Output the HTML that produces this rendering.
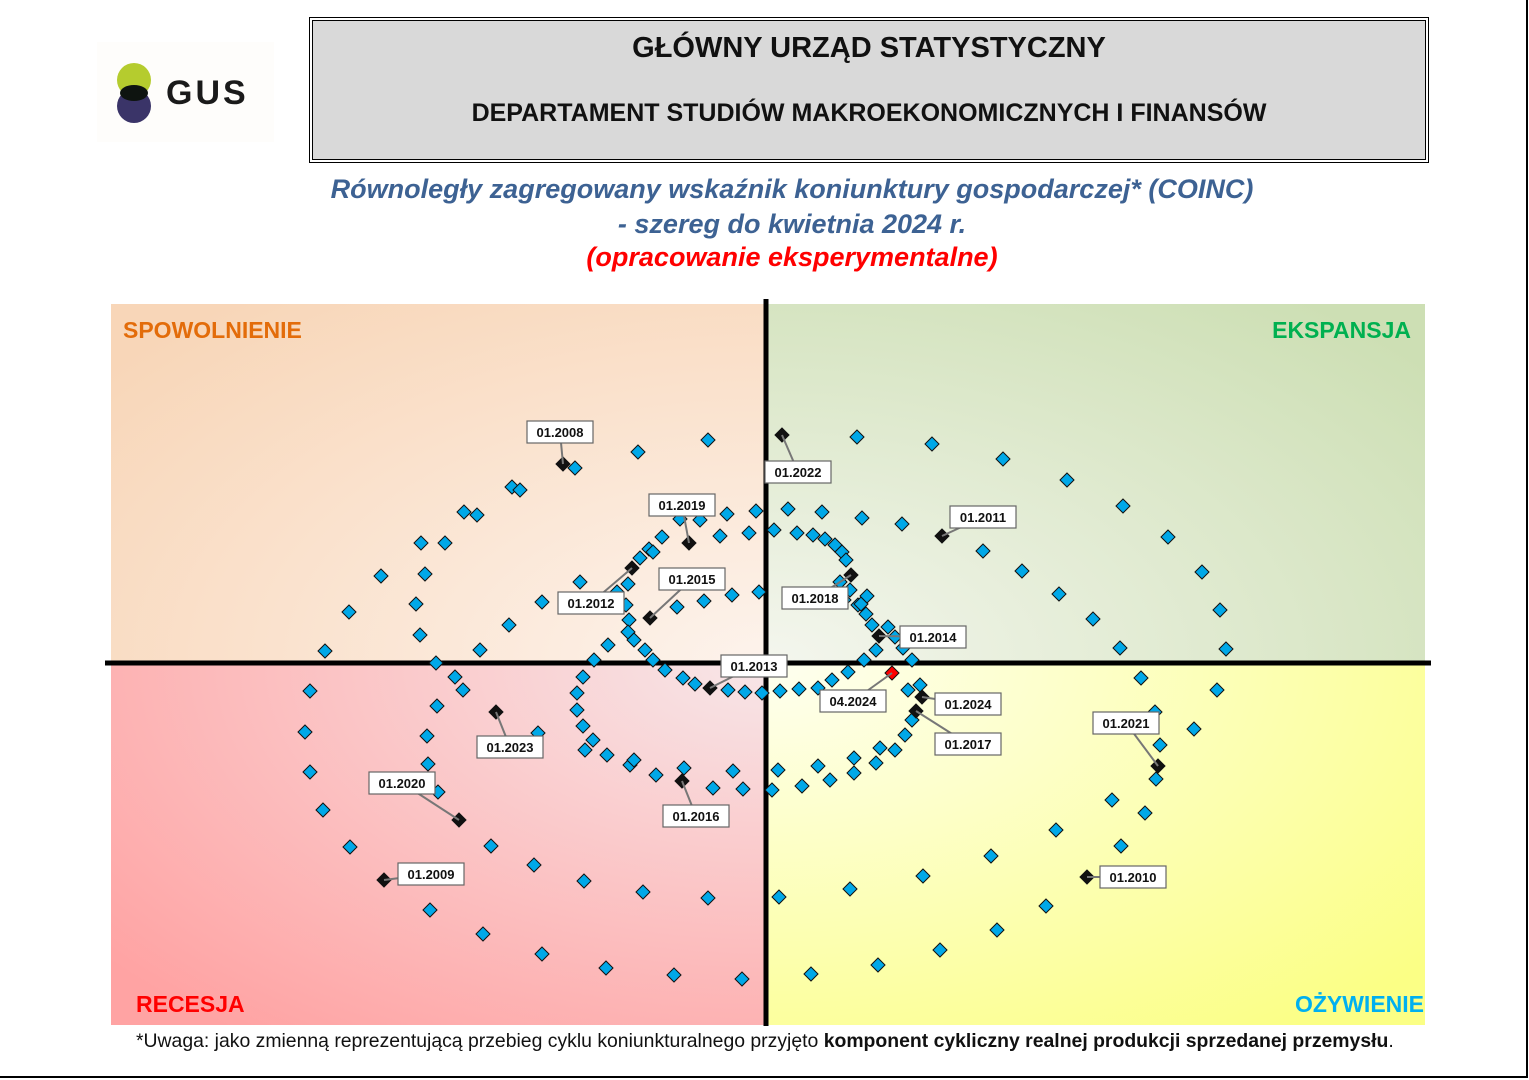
<!DOCTYPE html>
<html><head><meta charset="utf-8"><style>
body{margin:0;width:1529px;height:1080px;background:#fff;position:relative;overflow:hidden;font-family:"Liberation Sans",sans-serif}
.abs{position:absolute}
</style></head><body>
<div class="abs" style="left:1526px;top:0;width:2px;height:1078px;background:#000"></div>
<div class="abs" style="left:0;top:1076px;width:1528px;height:2px;background:#000"></div>
<!-- logo -->
<div class="abs" style="left:97px;top:42px;width:177px;height:100px;background:#fefdfb"></div>
<div class="abs" style="left:117px;top:63px;width:34px;height:34px;border-radius:50%;background:#b5cc2e"></div>
<div class="abs" style="left:117px;top:89px;width:34px;height:34px;border-radius:50%;background:#3a3468"></div>
<div class="abs" style="left:120px;top:85px;width:28px;height:16px;border-radius:50%;background:#0e1410"></div>
<div class="abs" style="left:166px;top:74px;font-size:34px;letter-spacing:3px;color:#1a1a1a;font-weight:bold">GUS</div>
<!-- header box -->
<div class="abs" style="left:309px;top:17px;width:1114px;height:140px;border:1px solid #000;padding:2px;"><div style="width:1112px;height:138px;border:1px solid #000;background:#d9d9d9"></div></div>
<div class="abs" style="left:310px;top:32px;width:1118px;text-align:center;font-weight:bold;font-size:29px;color:#111">GŁÓWNY URZĄD STATYSTYCZNY</div>
<div class="abs" style="left:310px;top:99px;width:1118px;text-align:center;font-weight:bold;font-size:25px;color:#111">DEPARTAMENT STUDIÓW MAKROEKONOMICZNYCH I FINANSÓW</div>
<div class="abs" style="left:200px;top:172px;width:1184px;text-align:center;font-weight:bold;font-style:italic;font-size:27px;color:#3d6293;line-height:35px">Równoległy zagregowany wskaźnik koniunktury gospodarczej* (COINC)<br>- szereg do kwietnia 2024 r.</div>
<div class="abs" style="left:200px;top:242px;width:1184px;text-align:center;font-weight:bold;font-style:italic;font-size:27px;color:#f00">(opracowanie eksperymentalne)</div>
<svg class="abs" style="left:0;top:0" width="1529" height="1080" id="s">
<defs>
<radialGradient id="g1" cx="1" cy="1" r="1.3"><stop offset="0" stop-color="#fdf3ec"/><stop offset="1" stop-color="#f8d6b8"/></radialGradient>
<radialGradient id="g2" cx="0" cy="1" r="1.3"><stop offset="0" stop-color="#f4f6ee"/><stop offset="1" stop-color="#cddfb4"/></radialGradient>
<radialGradient id="g3" cx="1" cy="0" r="1.3"><stop offset="0" stop-color="#f7e6e8"/><stop offset="1" stop-color="#ffa3a3"/></radialGradient>
<radialGradient id="g4" cx="0" cy="0" r="1.3"><stop offset="0" stop-color="#fefff0"/><stop offset="1" stop-color="#fbff85"/></radialGradient>
</defs>
<rect x="111" y="304" width="655" height="359" fill="url(#g1)"/>
<rect x="766" y="304" width="659" height="359" fill="url(#g2)"/>
<rect x="111" y="663" width="655" height="362" fill="url(#g3)"/>
<rect x="766" y="663" width="659" height="362" fill="url(#g4)"/>
<line x1="105" y1="663" x2="1431" y2="663" stroke="#000" stroke-width="5"/>
<line x1="766" y1="299" x2="766" y2="1026" stroke="#000" stroke-width="5"/>
<text x="123" y="338" font-size="23" font-weight="bold" fill="#e36c0a">SPOWOLNIENIE</text>
<text x="1411" y="338" font-size="23" font-weight="bold" fill="#00b050" text-anchor="end">EKSPANSJA</text>
<text x="136" y="1012" font-size="23" font-weight="bold" fill="#f00">RECESJA</text>
<text x="1424" y="1012" font-size="23" font-weight="bold" fill="#00b0f0" text-anchor="end">OŻYWIENIE</text>
<g id="pts"></g>
<g id="lab"></g>
</svg>
<div class="abs" style="left:136px;top:1030px;font-size:19.4px;color:#111;white-space:nowrap">*Uwaga: jako zmienną reprezentującą przebieg cyklu koniunkturalnego przyjęto <b>komponent cykliczny realnej produkcji sprzedanej przemysłu</b>.</div>
<script>
var P=[[638,452],[708,440],[575,468],[512,487],[520,490],[464,512],[477,515],[421,543],[445,543],[381,576],[425,574],[349,612],[416,604],[325,651],[420,635],[310,691],[305,732],[310,772],[323,810],[350,847],[430,910],[483,934],[542,954],[606,968],[674,975],[742,979],
[436,663],[455,677],[463,690],[437,706],[427,736],[428,764],[438,792],[491,846],[534,865],[584,881],[643,892],[708,898],
[480,650],[509,625],[542,602],[580,582],[538,733],
[594,660],[608,645],[583,677],[577,693],[577,710],[583,726],[593,740],[585,750],[607,755],[630,765],[634,760],[656,775],[684,768],[713,788],[733,771],[743,789],
[617,592],[628,584],[626,605],[629,620],[628,632],[634,640],[645,650],[653,660],[665,670],[683,678],[695,684],[728,690],[745,692],[762,693],
[640,558],[649,549],[653,552],[662,537],[680,519],[700,520],[720,536],[727,514],[749,533],[756,511],
[677,607],[704,601],[732,595],[759,592],
[857,437],[932,444],[1003,459],[1067,480],[1123,506],[1168,537],[1202,572],[1220,610],[1226,649],[1217,690],[1194,729],[1160,745],[1156,779],[1145,813],[1121,846],[1046,906],[997,930],[940,950],[878,965],[811,974],
[788,509],[822,512],[862,518],[902,524],[983,551],[1022,571],[1059,594],[1093,619],[1120,648],[1141,678],[1155,712],[1112,800],[1056,830],[991,856],[923,876],[850,889],[779,897],
[774,530],[797,533],[813,535],[825,539],[835,545],[842,552],[846,560],[850,590],[858,605],[866,614],[872,625],[888,627],[895,637],[903,648],[912,660],[920,685],[912,720],[905,735],[895,750],[880,748],[876,763],[854,758],[854,773],[830,780],[818,766],[802,786],[778,770],[772,790],
[876,650],[864,660],[848,672],[832,680],[818,688],[799,689],[780,691],[908,690],[861,604],[844,600],[840,582],[867,596]];
var B=[[563,464],[384,880],[459,820],[496,712],[682,781],[632,568],[710,688],[689,543],[650,618],[782,435],[1158,766],[1087,877],[942,536],[851,575],[879,636],[922,697],[916,711]];
var h='';
function d(x,y,f){return '<polygon points="'+x+','+(y-7)+' '+(x+7)+','+y+' '+x+','+(y+7)+' '+(x-7)+','+y+'" fill="'+f+'" stroke="#111" stroke-width="1"/>';}
P.forEach(function(p){h+=d(p[0],p[1],'#00a8e8');});
B.forEach(function(p){h+=d(p[0],p[1],'#111');});
h+=d(892,673,'#f00');
document.getElementById('pts').innerHTML=h;
var L=[['01.2008',527,421,563,464],['01.2022',765,461,782,435],['01.2019',649,494,689,543],['01.2011',950,506,942,536],['01.2015',659,568,650,618],['01.2012',558,592,632,568],['01.2018',782,587,851,575],['01.2014',900,626,879,636],['01.2013',721,655,710,688],['04.2024',820,690,892,673],['01.2024',935,693,922,697],['01.2017',935,733,916,711],['01.2021',1093,712,1158,766],['01.2023',477,736,496,712],['01.2020',369,772,459,820],['01.2016',663,805,682,781],['01.2009',398,863,384,880],['01.2010',1100,866,1087,877]];
var g='';
L.forEach(function(l){var w=l[0].length*8+10;
g+='<line x1="'+(l[1]+w/2)+'" y1="'+(l[2]+11)+'" x2="'+l[3]+'" y2="'+l[4]+'" stroke="#777" stroke-width="2"/>';
g+='<rect x="'+l[1]+'" y="'+l[2]+'" width="'+w+'" height="22" fill="#fff" stroke="#666" stroke-width="1.2"/>';
g+='<text x="'+(l[1]+w/2)+'" y="'+(l[2]+16)+'" font-size="13" font-weight="bold" text-anchor="middle" fill="#111">'+l[0]+'</text>';});
document.getElementById('lab').innerHTML=g;
</script>
</body></html>
